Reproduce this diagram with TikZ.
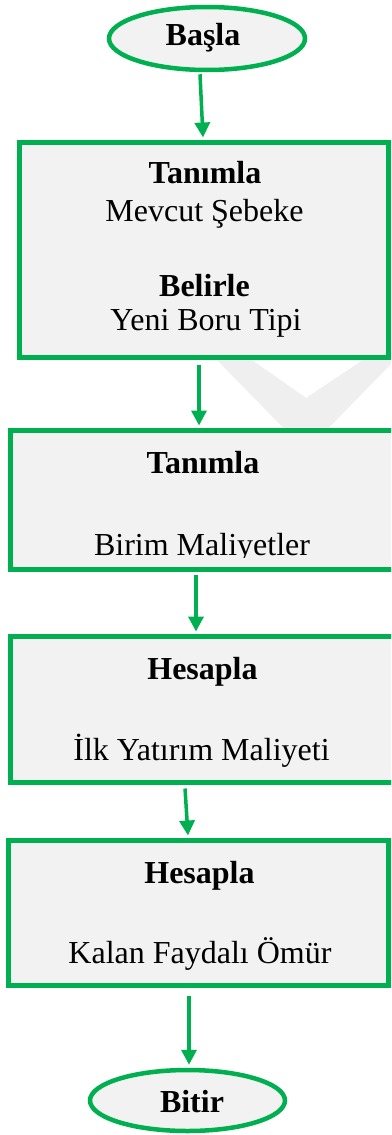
\documentclass[tikz,border=0pt]{standalone}
\usepackage{fontspec}
\setmainfont{Liberation Serif}
\usetikzlibrary{arrows.meta,shapes.geometric}
\definecolor{fgreen}{HTML}{00B050}
\definecolor{boxfill}{HTML}{F2F2F2}
\definecolor{wmark}{HTML}{EFEFEF}
\tikzset{
  stepbox/.style={draw=fgreen,line width=5pt,fill=boxfill,rectangle,inner sep=0pt},
  termin/.style={draw=fgreen,line width=4.5pt,fill=boxfill,ellipse,inner sep=0pt},
  arr/.style={draw=fgreen,line width=3.5pt,-{Triangle[width=15pt,length=15pt]}},
  txt/.style={anchor=base,inner sep=0pt,font=\fontsize{32}{38}\selectfont},
  btxt/.style={txt,font=\fontsize{32}{38}\selectfont\bfseries}
}
\begin{document}
\begin{tikzpicture}[x=1pt,y=-1pt]
\clip (0,0) rectangle (391,1135);
\fill[white] (0,0) rectangle (391,1135);
% faint watermark chevron
\fill[wmark] (217,360) -- (306,451) -- (395,360) -- (363,360) -- (306,398) -- (252,360) -- cycle;
% terminals
\node[termin,minimum width=196pt,minimum height=63pt] (basla) at (207,38.5) {};
\node[termin,minimum width=195pt,minimum height=61pt] (bitir) at (187.5,1100.5) {};
% boxes
\node[stepbox,minimum width=369pt,minimum height=215pt] (b1) at (204,250) {};
\node[stepbox,minimum width=389.5pt,minimum height=139pt] (b2) at (205.25,500) {};
\node[stepbox,minimum width=389.5pt,minimum height=146pt] (b3) at (205.25,709.5) {};
\node[stepbox,minimum width=380pt,minimum height=145pt] (b4) at (198.5,913) {};
% texts
\node[btxt] (tbasla) at (203,45) {Başla};
\node[btxt] (t1a) at (205,183) {Tanımla};
\node[txt] (t1b) at (204.5,221) {Mevcut Şebeke};
\node[btxt] (t1c) at (204.5,296) {Belirle};
\node[txt] (t1d) at (206,330) {Yeni Boru Tipi};
\node[btxt] (t2a) at (203,473) {Tanımla};
\begin{scope}
\clip (0,420) rectangle (391,557);
\node[txt] (t2b) at (202,555) {Birim Maliyetler};
\end{scope}
\node[btxt] (t3a) at (202.5,679) {Hesapla};
\node[txt] (t3b) at (201.5,760) {İlk Yatırım Maliyeti};
\node[btxt] (t4a) at (199.5,883) {Hesapla};
\node[txt] (t4b) at (200,963) {Kalan Faydalı Ömür};
\node[btxt] (tbitir) at (192,1112) {Bitir};
% arrows
\draw[arr] ([xshift=-7pt,yshift=-2pt]basla.south) -- ([xshift=-1pt,yshift=2.5pt]b1.north);
\draw[arr] ([xshift=-5pt,yshift=-4.5pt]b1.south) -- ([xshift=-6.25pt,yshift=2.5pt]b2.north);
\draw[arr] ([xshift=-9.25pt,yshift=-2.5pt]b2.south) -- ([xshift=-9.25pt,yshift=2.5pt]b3.north);
\draw[arr] ([xshift=-20.25pt,yshift=-3.5pt]b3.south) -- ([xshift=-10.5pt,yshift=2.5pt]b4.north);
\draw[arr] ([xshift=-9.5pt,yshift=-7.5pt]b4.south) -- ([xshift=1.5pt,yshift=3pt]bitir.north);
\end{tikzpicture}
\end{document}
